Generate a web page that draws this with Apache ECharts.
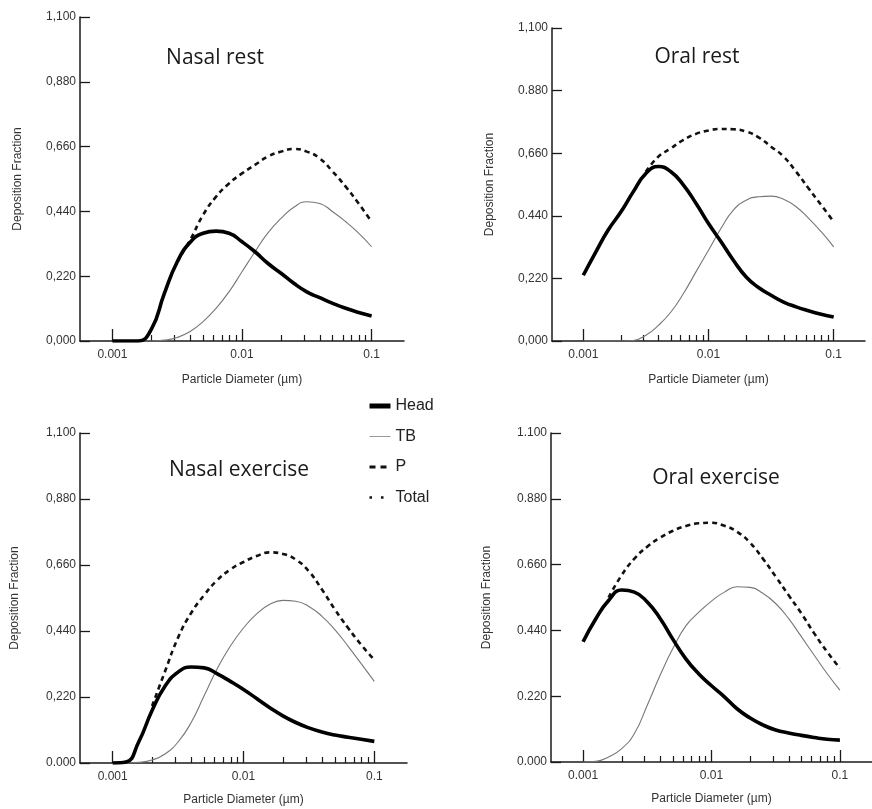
<!DOCTYPE html>
<html>
<head>
<meta charset="utf-8">
<script src="https://cdn.jsdelivr.net/npm/echarts@6/dist/echarts.min.js"></script>
<style>html,body{margin:0;padding:0;background:#fff}#c{width:872px;height:809px}</style>
</head>
<body>
<div id="c"></div>
<script>
// particle diameters (µm), evenly spaced on the log scale
const diam = [0.001,0.00126,0.00158,0.002,0.00251,0.00316,0.00398,0.00501,0.00631,0.00794,0.01,0.0126,0.0158,0.02,0.0251,0.0316,0.0398,0.0501,0.0631,0.0794,0.1];

// Nasal rest
const nrHead  = [0,0,0,0.04,0.16,0.268,0.335,0.366,0.373,0.366,0.337,0.303,0.264,0.23,0.196,0.167,0.147,0.128,0.111,0.097,0.085];
const nrTB    = [null,null,0,0,0.003,0.012,0.032,0.066,0.111,0.167,0.235,0.303,0.366,0.416,0.454,0.473,0.467,0.439,0.405,0.366,0.32];
const nrUpper = [null,null,null,null,null,0.27,0.343,0.428,0.49,0.535,0.569,0.598,0.626,0.643,0.652,0.643,0.62,0.575,0.524,0.467,0.405];

// Oral rest
const orHead  = [0.231,0.313,0.39,0.454,0.525,0.589,0.613,0.595,0.548,0.484,0.413,0.349,0.284,0.225,0.188,0.161,0.137,0.12,0.106,0.094,0.084];
const orTB    = [0,0,0,0,0.002,0.02,0.055,0.102,0.167,0.243,0.319,0.396,0.46,0.495,0.507,0.509,0.498,0.472,0.431,0.384,0.331];
const orUpper = [null,null,null,null,null,0.595,0.648,0.677,0.707,0.728,0.74,0.745,0.744,0.736,0.716,0.683,0.648,0.595,0.536,0.478,0.419];

// Nasal exercise
const neHead  = [0,0.003,0.07,0.175,0.256,0.303,0.32,0.317,0.297,0.272,0.245,0.215,0.185,0.157,0.135,0.117,0.103,0.093,0.086,0.079,0.072];
const neTB    = [null,0,0.002,0.01,0.03,0.07,0.135,0.225,0.315,0.39,0.45,0.497,0.528,0.542,0.539,0.522,0.489,0.444,0.389,0.331,0.272];
const neUpper = [null,null,null,0.19,0.305,0.418,0.50,0.56,0.61,0.645,0.67,0.69,0.702,0.697,0.678,0.639,0.578,0.511,0.45,0.394,0.344];

// Oral exercise
const oeHead  = [0.402,0.48,0.54,0.575,0.568,0.535,0.48,0.41,0.345,0.295,0.255,0.218,0.178,0.147,0.124,0.107,0.097,0.089,0.082,0.076,0.073];
const oeTB    = [0,0.002,0.017,0.045,0.095,0.19,0.29,0.38,0.455,0.50,0.538,0.568,0.586,0.584,0.564,0.53,0.48,0.419,0.357,0.296,0.24];
const oeUpper = [null,null,0.55,0.625,0.68,0.72,0.75,0.773,0.789,0.798,0.80,0.79,0.77,0.733,0.68,0.62,0.558,0.497,0.43,0.369,0.313];

const titles = ['Nasal rest','Oral rest','Nasal exercise','Oral exercise'];
const xMajor = [0.001,0.01,0.1];
const xMajorLabels = ['0.001','0.01','0.1'];
const xMinor = [0.002,0.003,0.004,0.005,0.006,0.007,0.008,0.009,0.02,0.03,0.04,0.05,0.06,0.07,0.08,0.09];
const yLabelsTL = ['0,000','0,220','0,440','0,660','0,880','1,100'];
const yLabelsTR = ['0,000','0,220','0.440','0,660','0.880','1,100'];
const yLabelsBL = ['0.000','0,220','0,440','0,660','0,880','1,100'];
const yLabelsBR = ['0.000','0.220','0.440','0.660','0.880','1.100'];

const panels = [
  {grid:{left:80,top:17,width:324,height:324}, head:nrHead, tb:nrTB, up:nrUpper, yl:yLabelsTL, title:[210,43], nameGapY:56, nameGapX:33},
  {grid:{left:552,top:28,width:313,height:313}, head:orHead, tb:orTB, up:orUpper, yl:yLabelsTR, title:[692,42], nameGapY:56, nameGapX:33},
  {grid:{left:80,top:433,width:327,height:330}, head:neHead, tb:neTB, up:neUpper, yl:yLabelsBL, title:[234,455], nameGapY:59, nameGapX:31},
  {grid:{left:551,top:433,width:327,height:329}, head:oeHead, tb:oeTB, up:oeUpper, yl:yLabelsBR, title:[711,463], nameGapY:58, nameGapX:31}
];

const xmin = Math.pow(10,-3.25), xmax = Math.pow(10,-0.75);
const axisCol = '#1a1a1a';
const lblFont = 'Liberation Sans';
const pair = ys => diam.map((d,i)=>[d, ys[i]]);
const noSym = {color:'rgba(0,0,0,0)',borderColor:'rgba(0,0,0,0)',borderWidth:0};
const SMOOTH = 0.5;

const grid=[], xAxis=[], yAxis=[], series=[], title=[];
panels.forEach((p,i)=>{
  grid.push(Object.assign({containLabel:false}, p.grid));
  xAxis.push({
    type:'log', logBase:10, gridIndex:i, min:xmin, max:xmax, position:'bottom',
    name:'Particle Diameter (µm)', nameLocation:'middle', nameGap:p.nameGapX,
    nameTextStyle:{fontFamily:lblFont,fontSize:12,color:'#333'},
    axisLine:{show:true,lineStyle:{color:axisCol,width:1.5}},
    axisTick:{show:true,inside:true,length:12,customValues:xMajor,lineStyle:{color:axisCol,width:1.3}},
    axisLabel:{show:true,customValues:xMajor,margin:8,fontFamily:lblFont,fontSize:12,color:'#333',
      formatter:v=>{const k=xMajor.findIndex(m=>Math.abs(m-v)/m<1e-6);return k>=0?xMajorLabels[k]:'';}},
    splitLine:{show:false}, minorTick:{show:false}
  });
  xAxis.push({
    type:'log', logBase:10, gridIndex:i, min:xmin, max:xmax, position:'bottom',
    axisLine:{show:false},
    axisTick:{show:true,inside:true,length:6,customValues:xMinor,lineStyle:{color:axisCol,width:1.2}},
    axisLabel:{show:false}, splitLine:{show:false}
  });
  yAxis.push({
    type:'value', gridIndex:i, min:0, max:1.1, interval:0.22,
    name:'Deposition Fraction', nameLocation:'middle', nameGap:p.nameGapY, nameRotate:90,
    nameTextStyle:{fontFamily:lblFont,fontSize:12,color:'#333'},
    axisLine:{show:true,lineStyle:{color:axisCol,width:1.5}},
    axisTick:{show:true,inside:true,length:10,lineStyle:{color:axisCol,width:1.3}},
    axisLabel:{margin:4,fontFamily:lblFont,fontSize:12,color:'#333',
      formatter:v=>p.yl[Math.round(v/0.22)]},
    splitLine:{show:false}
  });
  title.push({text:titles[i], left:p.title[0], top:p.title[1], textAlign:'center',
    textStyle:{fontFamily:'Open Sans',fontSize:21,fontWeight:'normal',color:'#1a1a1a'}});
  const xi = i*2;
  series.push({name:'TB',type:'line',xAxisIndex:xi,yAxisIndex:i,data:pair(p.tb),smooth:SMOOTH,symbol:'none',
    itemStyle:{color:'#777'}, lineStyle:{color:'#777',width:1.1},z:2});
  series.push({name:'P',type:'line',xAxisIndex:xi,yAxisIndex:i,data:pair(p.up),smooth:SMOOTH,symbol:'none',
    itemStyle:{color:'#111'}, lineStyle:{color:'#111',width:2.6,type:[5,4]},z:3});
  series.push({name:'Head',type:'line',xAxisIndex:xi,yAxisIndex:i,data:pair(p.head),smooth:SMOOTH,symbol:'none',
    itemStyle:{color:'#000'}, lineStyle:{color:'#000',width:3.6},z:4});
  series.push({name:'Total',type:'line',xAxisIndex:xi,yAxisIndex:i,data:[],symbol:'none',
    itemStyle:{color:'#111'}, lineStyle:{color:'#111',width:2.4,type:[2,7]}});
});

const chart = echarts.init(document.getElementById('c'),null,{renderer:'canvas'});
chart.setOption({
  animation:false,
  backgroundColor:'#fff',
  title:title,
  legend:{
    orient:'vertical', left:362, top:393, itemWidth:21, itemHeight:14, itemGap:14.5,
    selectedMode:false,
    textStyle:{fontFamily:lblFont,fontSize:16,color:'#222'},
    data:[
      {name:'Head', itemStyle:noSym, lineStyle:{width:5,color:'#000',cap:'butt'}},
      {name:'TB', itemStyle:noSym, lineStyle:{width:1,color:'#999'}},
      {name:'P', itemStyle:noSym, lineStyle:{width:3,color:'#111',type:[6,5]}},
      {name:'Total', itemStyle:noSym, lineStyle:{width:2.5,color:'#111',type:[2.5,9]}}
    ]
  },
  grid:grid, xAxis:xAxis, yAxis:yAxis, series:series
});
</script>
</body>
</html>
